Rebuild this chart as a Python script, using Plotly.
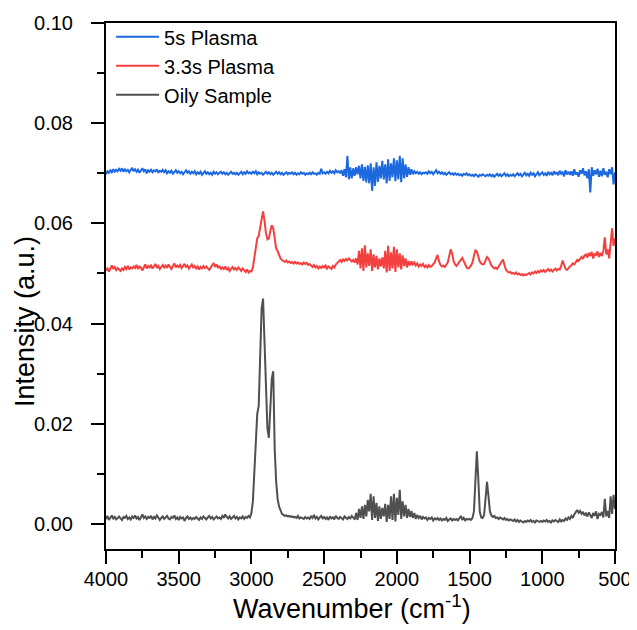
import plotly.graph_objects as go

# Wavenumber grid (cm^-1), 4000 -> 500 in 10 cm^-1 steps
wavenumber = list(range(4000, 499, -10))

plasma_5s = [
    0.0698, 0.0704, 0.0701, 0.0706, 0.0702, 0.0708, 0.0703, 0.0707, 0.0704, 0.0709,
    0.0705, 0.0710, 0.0703, 0.0708, 0.0704, 0.0707, 0.0702, 0.0706, 0.0711, 0.0704,
    0.0708, 0.0703, 0.0707, 0.0701, 0.0705, 0.0710, 0.0704, 0.0708, 0.0700, 0.0706,
    0.0703, 0.0707, 0.0702, 0.0706, 0.0704, 0.0708, 0.0701, 0.0705, 0.0703, 0.0707,
    0.0702, 0.0706, 0.0700, 0.0704, 0.0701, 0.0705, 0.0699, 0.0703, 0.0706, 0.0701,
    0.0704, 0.0700, 0.0703, 0.0698, 0.0702, 0.0706, 0.0701, 0.0704, 0.0699, 0.0703,
    0.0700, 0.0704, 0.0698, 0.0702, 0.0699, 0.0703, 0.0697, 0.0701, 0.0704, 0.0699,
    0.0702, 0.0698, 0.0701, 0.0697, 0.0703, 0.0699, 0.0702, 0.0698, 0.0700, 0.0703,
    0.0699, 0.0702, 0.0698, 0.0701, 0.0697, 0.0700, 0.0703, 0.0699, 0.0701, 0.0698,
    0.0701, 0.0697, 0.0700, 0.0703, 0.0698, 0.0702, 0.0699, 0.0704, 0.0700, 0.0702,
    0.0699, 0.0703, 0.0700, 0.0704, 0.0698, 0.0702, 0.0699, 0.0701, 0.0697, 0.0700,
    0.0703, 0.0699, 0.0702, 0.0698, 0.0701, 0.0697, 0.0700, 0.0703, 0.0699, 0.0702,
    0.0698, 0.0701, 0.0697, 0.0700, 0.0702, 0.0698, 0.0701, 0.0699, 0.0702, 0.0698,
    0.0701, 0.0697, 0.0700, 0.0698, 0.0702, 0.0699, 0.0701, 0.0697, 0.0700, 0.0698,
    0.0701, 0.0698, 0.0702, 0.0699, 0.0700, 0.0697, 0.0701, 0.0699, 0.0709, 0.0700,
    0.0702, 0.0699, 0.0703, 0.0700, 0.0705, 0.0701, 0.0704, 0.0700, 0.0706, 0.0702,
    0.0704, 0.0701, 0.0706, 0.0695, 0.0708, 0.0692, 0.0735, 0.0688, 0.0712, 0.0690,
    0.0710, 0.0695, 0.0712, 0.0698, 0.0715, 0.0690, 0.0718, 0.0685, 0.0713, 0.0682,
    0.0716, 0.0680, 0.0720, 0.0665, 0.0712, 0.0675, 0.0722, 0.0683, 0.0715, 0.0690,
    0.0725, 0.0688, 0.0718, 0.0680, 0.0728, 0.0685, 0.0720, 0.0692, 0.0730, 0.0684,
    0.0726, 0.0688, 0.0735, 0.0682, 0.0730, 0.0690, 0.0718, 0.0693, 0.0712, 0.0697,
    0.0708, 0.0698, 0.0704, 0.0700, 0.0703, 0.0699, 0.0702, 0.0698, 0.0701, 0.0700,
    0.0702, 0.0699, 0.0704, 0.0700, 0.0703, 0.0698, 0.0701, 0.0706, 0.0700, 0.0703,
    0.0699, 0.0702, 0.0698, 0.0701, 0.0697, 0.0700, 0.0702, 0.0698, 0.0700, 0.0697,
    0.0700, 0.0697, 0.0699, 0.0696, 0.0698, 0.0695, 0.0699, 0.0697, 0.0700, 0.0696,
    0.0698, 0.0695, 0.0697, 0.0694, 0.0698, 0.0696, 0.0693, 0.0697, 0.0695, 0.0698,
    0.0696, 0.0694, 0.0697, 0.0695, 0.0698, 0.0694, 0.0697, 0.0693, 0.0696, 0.0699,
    0.0695, 0.0698, 0.0694, 0.0697, 0.0700, 0.0695, 0.0698, 0.0694, 0.0697, 0.0695,
    0.0698, 0.0694, 0.0697, 0.0700, 0.0696, 0.0699, 0.0694, 0.0698, 0.0701, 0.0696,
    0.0699, 0.0695, 0.0701, 0.0697, 0.0700, 0.0694, 0.0698, 0.0702, 0.0696, 0.0699,
    0.0702, 0.0697, 0.0700, 0.0695, 0.0703, 0.0698, 0.0701, 0.0696, 0.0704, 0.0699,
    0.0701, 0.0696, 0.0705, 0.0699, 0.0702, 0.0694, 0.0706, 0.0698, 0.0703, 0.0697,
    0.0704, 0.0695, 0.0708, 0.0697, 0.0702, 0.0693, 0.0706, 0.0699, 0.0710, 0.0696,
    0.0704, 0.0690, 0.0708, 0.0662, 0.0712, 0.0695, 0.0706, 0.0698, 0.0709, 0.0693,
    0.0705, 0.0694, 0.0710, 0.0697, 0.0703, 0.0692, 0.0708, 0.0698, 0.0712, 0.0678,
    0.0702,
]

plasma_3_3s = [
    0.0506, 0.0510, 0.0504, 0.0512, 0.0516, 0.0509, 0.0513, 0.0507, 0.0511, 0.0508,
    0.0505, 0.0510, 0.0507, 0.0513, 0.0509, 0.0515, 0.0508, 0.0512, 0.0510, 0.0514,
    0.0511, 0.0517, 0.0509, 0.0514, 0.0512, 0.0506, 0.0513, 0.0518, 0.0510, 0.0515,
    0.0512, 0.0516, 0.0510, 0.0514, 0.0519, 0.0511, 0.0515, 0.0509, 0.0513, 0.0517,
    0.0512, 0.0516, 0.0511, 0.0518, 0.0513, 0.0509, 0.0515, 0.0520, 0.0512, 0.0516,
    0.0513, 0.0517, 0.0511, 0.0515, 0.0519, 0.0512, 0.0516, 0.0510, 0.0514, 0.0518,
    0.0512, 0.0515, 0.0510, 0.0514, 0.0508, 0.0513, 0.0510, 0.0515, 0.0511, 0.0514,
    0.0510, 0.0507, 0.0512, 0.0516, 0.0521, 0.0513, 0.0518, 0.0511, 0.0515, 0.0508,
    0.0512, 0.0509, 0.0514, 0.0507, 0.0511, 0.0505, 0.0510, 0.0513, 0.0508, 0.0511,
    0.0507, 0.0512, 0.0509, 0.0505, 0.0510, 0.0507, 0.0503, 0.0508, 0.0502, 0.0505,
    0.0504, 0.0512, 0.0530, 0.0552, 0.0570, 0.0575, 0.0592, 0.0615, 0.0624, 0.0605,
    0.0580, 0.0568, 0.0570, 0.0585, 0.0596, 0.0590, 0.0565, 0.0550, 0.0545, 0.0538,
    0.0530, 0.0527, 0.0525, 0.0523, 0.0526, 0.0522, 0.0524, 0.0521, 0.0523, 0.0520,
    0.0523, 0.0520, 0.0522, 0.0519, 0.0521, 0.0518, 0.0522, 0.0519, 0.0521, 0.0517,
    0.0519, 0.0516, 0.0513, 0.0517, 0.0512, 0.0515, 0.0510, 0.0514, 0.0511, 0.0515,
    0.0512, 0.0516, 0.0510, 0.0514, 0.0511, 0.0509, 0.0515, 0.0512, 0.0518, 0.0521,
    0.0524, 0.0527, 0.0523, 0.0528, 0.0525, 0.0529, 0.0526, 0.0530, 0.0527, 0.0524,
    0.0527, 0.0522, 0.0530, 0.0518, 0.0545, 0.0510, 0.0550, 0.0505, 0.0556, 0.0512,
    0.0540, 0.0515, 0.0548, 0.0505, 0.0538, 0.0512, 0.0535, 0.0508, 0.0530, 0.0514,
    0.0532, 0.0510, 0.0545, 0.0502, 0.0555, 0.0505, 0.0542, 0.0510, 0.0553, 0.0503,
    0.0548, 0.0512, 0.0540, 0.0508, 0.0536, 0.0515, 0.0530, 0.0512, 0.0525, 0.0516,
    0.0524, 0.0518, 0.0522, 0.0516, 0.0520, 0.0514, 0.0518, 0.0515, 0.0519, 0.0513,
    0.0516, 0.0512, 0.0517, 0.0513, 0.0515, 0.0518, 0.0522, 0.0530, 0.0537, 0.0524,
    0.0517, 0.0514, 0.0516, 0.0513, 0.0518, 0.0522, 0.0535, 0.0548, 0.0540, 0.0525,
    0.0518, 0.0515, 0.0519, 0.0522, 0.0527, 0.0531, 0.0524, 0.0516, 0.0512, 0.0510,
    0.0512, 0.0516, 0.0522, 0.0535, 0.0546, 0.0544, 0.0532, 0.0524, 0.0520, 0.0518,
    0.0519, 0.0525, 0.0533, 0.0530, 0.0521, 0.0516, 0.0513, 0.0510, 0.0512, 0.0509,
    0.0514, 0.0519, 0.0525, 0.0528, 0.0517, 0.0508, 0.0504, 0.0502, 0.0503, 0.0500,
    0.0501, 0.0499, 0.0502, 0.0498, 0.0500, 0.0497, 0.0499, 0.0496, 0.0498, 0.0497,
    0.0499, 0.0501, 0.0498, 0.0502, 0.0500, 0.0504, 0.0501, 0.0505, 0.0502, 0.0506,
    0.0504, 0.0507, 0.0503, 0.0506, 0.0509, 0.0505, 0.0508, 0.0504, 0.0507, 0.0510,
    0.0506, 0.0509, 0.0508, 0.0515, 0.0526, 0.0518, 0.0509, 0.0507, 0.0511, 0.0514,
    0.0516, 0.0520, 0.0518, 0.0523, 0.0527, 0.0525, 0.0530, 0.0533, 0.0529, 0.0536,
    0.0538, 0.0532, 0.0541, 0.0535, 0.0543, 0.0530, 0.0540, 0.0536, 0.0544, 0.0533,
    0.0541, 0.0535, 0.0545, 0.0572, 0.0538, 0.0548, 0.0530, 0.0560, 0.0590, 0.0555,
    0.0570,
]

oily_sample = [
    0.0010, 0.0016, 0.0008, 0.0013, 0.0017, 0.0011, 0.0014, 0.0009, 0.0012, 0.0015,
    0.0011, 0.0008, 0.0014, 0.0012, 0.0016, 0.0010, 0.0013, 0.0009, 0.0015, 0.0012,
    0.0017, 0.0011, 0.0014, 0.0008, 0.0013, 0.0019, 0.0012, 0.0015, 0.0010, 0.0014,
    0.0012, 0.0016, 0.0009, 0.0014, 0.0011, 0.0017, 0.0013, 0.0008, 0.0012, 0.0015,
    0.0010, 0.0013, 0.0016, 0.0011, 0.0009, 0.0014, 0.0012, 0.0017, 0.0010, 0.0013,
    0.0008, 0.0014, 0.0011, 0.0013, 0.0006, 0.0012, 0.0015, 0.0010, 0.0013, 0.0009,
    0.0012, 0.0010, 0.0014, 0.0011, 0.0008, 0.0013, 0.0010, 0.0015, 0.0012, 0.0009,
    0.0013, 0.0016, 0.0011, 0.0014, 0.0009, 0.0012, 0.0015, 0.0011, 0.0013, 0.0010,
    0.0016, 0.0012, 0.0019, 0.0014, 0.0011, 0.0015, 0.0010, 0.0013, 0.0016, 0.0011,
    0.0014, 0.0009, 0.0013, 0.0011, 0.0015, 0.0010, 0.0014, 0.0012, 0.0016, 0.0013,
    0.0022, 0.0045, 0.0095, 0.0165, 0.0220, 0.0235, 0.0330, 0.0430, 0.0450, 0.0360,
    0.0245, 0.0190, 0.0172, 0.0230, 0.0290, 0.0305, 0.0150, 0.0085, 0.0050, 0.0035,
    0.0026, 0.0020, 0.0018, 0.0016, 0.0017, 0.0015, 0.0016, 0.0014, 0.0015, 0.0013,
    0.0014, 0.0012, 0.0016, 0.0011, 0.0013, 0.0012, 0.0010, 0.0014, 0.0011, 0.0013,
    0.0010, 0.0015, 0.0012, 0.0018, 0.0011, 0.0014, 0.0009, 0.0013, 0.0016, 0.0011,
    0.0014, 0.0010, 0.0013, 0.0008, 0.0015, 0.0011, 0.0013, 0.0009, 0.0016, 0.0012,
    0.0010, 0.0014, 0.0011, 0.0009, 0.0015, 0.0012, 0.0010, 0.0014, 0.0011, 0.0016,
    0.0013, 0.0009, 0.0022, 0.0008, 0.0030, 0.0012, 0.0035, 0.0010, 0.0038, 0.0015,
    0.0048, 0.0025, 0.0060, 0.0008, 0.0055, 0.0012, 0.0042, 0.0006, 0.0035, 0.0010,
    0.0032, 0.0015, 0.0040, 0.0004, 0.0038, 0.0010, 0.0055, 0.0008, 0.0060, 0.0005,
    0.0052, 0.0018, 0.0068, 0.0010, 0.0045, 0.0015, 0.0038, 0.0012, 0.0030, 0.0014,
    0.0026, 0.0012, 0.0022, 0.0010, 0.0018, 0.0012, 0.0016, 0.0009, 0.0014, 0.0011,
    0.0013, 0.0008, 0.0012, 0.0010, 0.0013, 0.0007, 0.0011, 0.0009, 0.0012, 0.0008,
    0.0011, 0.0007, 0.0010, 0.0008, 0.0012, 0.0006, 0.0009, 0.0011, 0.0007, 0.0010,
    0.0008, 0.0010, 0.0007, 0.0011, 0.0016, 0.0008, 0.0012, 0.0007, 0.0010, 0.0009,
    0.0010, 0.0008, 0.0012, 0.0025, 0.0105, 0.0145, 0.0090, 0.0025, 0.0013, 0.0012,
    0.0018, 0.0050, 0.0084, 0.0055, 0.0025, 0.0017, 0.0014, 0.0016, 0.0012, 0.0013,
    0.0010, 0.0013, 0.0011, 0.0009, 0.0012, 0.0008, 0.0010, 0.0007, 0.0009, 0.0008,
    0.0006, 0.0009, 0.0005, 0.0008, 0.0004, 0.0007, 0.0005, 0.0003, 0.0006, 0.0004,
    0.0007, 0.0005, 0.0008, 0.0004, 0.0006, 0.0003, 0.0007, 0.0005, 0.0004, 0.0006,
    0.0004, 0.0007, 0.0005, 0.0008, 0.0004, 0.0006, 0.0003, 0.0007, 0.0005, 0.0008,
    0.0006, 0.0004, 0.0009, 0.0005, 0.0008, 0.0006, 0.0011, 0.0008, 0.0013, 0.0010,
    0.0016, 0.0012, 0.0019, 0.0024, 0.0028, 0.0022, 0.0026, 0.0020, 0.0024, 0.0017,
    0.0021, 0.0015, 0.0023, 0.0018, 0.0012, 0.0022, 0.0016, 0.0025, 0.0010, 0.0020,
    0.0018, 0.0024, 0.0013, 0.0050, 0.0015, 0.0026, 0.0012, 0.0055, 0.0020, 0.0058,
    0.0030,
]

series_names = ["5s Plasma", "3.3s Plasma", "Oily Sample"]
series_values = [plasma_5s, plasma_3_3s, oily_sample]
series_colors = ["#1c68de", "#f43f3f", "#505050"]

x_ticks = [4000, 3500, 3000, 2500, 2000, 1500, 1000, 500]
y_ticks = [0.00, 0.02, 0.04, 0.06, 0.08, 0.10]

x_title = "Wavenumber (cm<sup>-1</sup>)"
y_title = "Intensity (a.u.)"

fig = go.Figure()
for name, vals, col in zip(series_names, series_values, series_colors):
    fig.add_trace(go.Scatter(x=wavenumber, y=vals, mode="lines", name=name,
                             line=dict(color=col, width=2)))

font_family = "Arial, Liberation Sans, sans-serif"
axis_common = dict(
    showline=True, linecolor="black", linewidth=2, mirror=True,
    ticks="outside", ticklen=13, tickwidth=2, tickcolor="black",
    showgrid=False, zeroline=False,
    tickfont=dict(family=font_family, size=20, color="black"),
)

# the page body adds an 8 px offset, so the figure is 8 px smaller and margins shifted
fig.update_layout(
    width=629, height=622,
    margin=dict(l=98, r=22, t=15, b=81, autoexpand=False),
    paper_bgcolor="white", plot_bgcolor="white",
    font=dict(family=font_family, color="black"),
    showlegend=True,
    legend=dict(x=0.01, y=1.011, xanchor="left", yanchor="top",
                bgcolor="rgba(0,0,0,0)", font=dict(family=font_family, size=20, color="black"),
                itemwidth=43),
    xaxis=dict(
        range=[4000, 500], tickvals=x_ticks, tickformat="d",
        minor=dict(ticks="outside", ticklen=7, tickwidth=2, tickcolor="black", dtick=250),
        ticklabelstandoff=-2,
        **axis_common,
    ),
    yaxis=dict(
        range=[-0.005, 0.10], tickvals=y_ticks, tickformat=".2f",
        minor=dict(ticks="outside", ticklen=7, tickwidth=2, tickcolor="black", dtick=0.01, tick0=0),
        ticklabelstandoff=14,
        **axis_common,
    ),
    annotations=[
        dict(text=x_title, xref="paper", yref="paper", x=0.4833, y=-0.111,
             xanchor="center", yanchor="middle", showarrow=False,
             font=dict(family=font_family, size=27, color="black")),
        dict(text=y_title, xref="paper", yref="paper", x=-0.159, y=0.4316,
             xanchor="center", yanchor="middle", showarrow=False, textangle=-90,
             font=dict(family=font_family, size=27, color="black")),
    ],
)

fig.write_html("out.html")
